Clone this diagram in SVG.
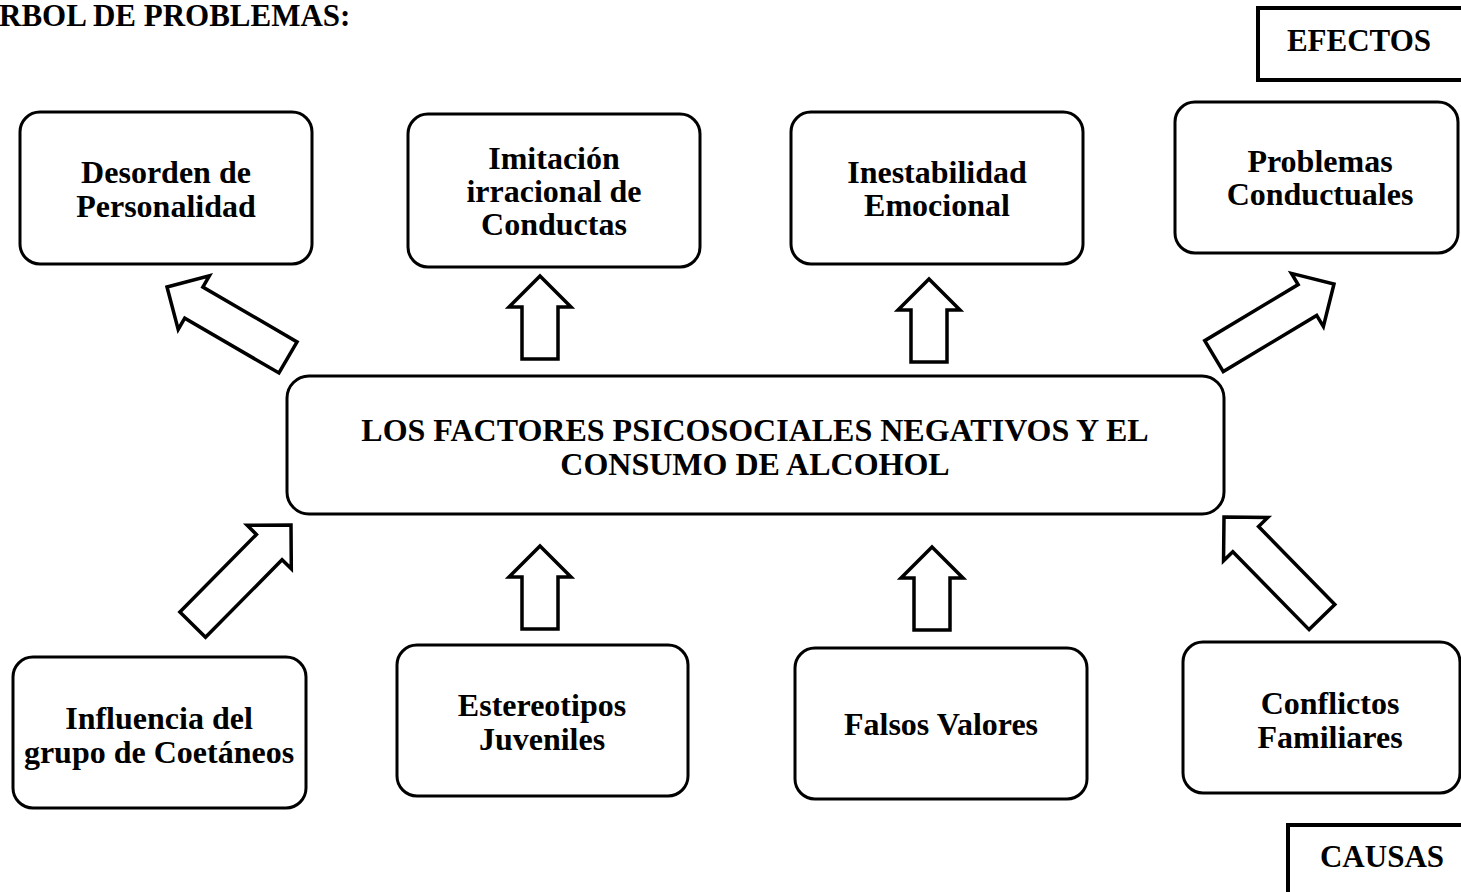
<svg xmlns="http://www.w3.org/2000/svg" width="1461" height="892" viewBox="0 0 1461 892">
<style>
.box{fill:#fff;stroke:#000;stroke-width:3}
.lbl{fill:#fff;stroke:#000;stroke-width:4}
.arr{fill:#fff;stroke:#000;stroke-width:3.5;stroke-linejoin:miter}
text{font-family:"Liberation Serif","Times New Roman",serif;font-weight:bold;font-size:32px;fill:#000;text-anchor:middle}
.t{font-size:31px}
</style>
<defs>
<polygon id="up" points="0,0 31,31 18,31 18,83 -18,83 -18,31 -31,31"/>
<polygon id="diag" points="0,0 31,31 18,31 18,140 -18,140 -18,31 -31,31"/>
</defs>
<text class="t" x="-1" y="26" style="text-anchor:start">RBOL DE PROBLEMAS:</text>
<g id="efectos">
<rect class="lbl" x="1258" y="8" width="220" height="72"/>
<text class="t" x="1359" y="51">EFECTOS</text>
</g>
<g id="causas">
<rect class="lbl" x="1288" y="825" width="200" height="100"/>
<text class="t" x="1382" y="867">CAUSAS</text>
</g>
<g id="n-desorden">
<rect class="box" x="20" y="112" width="292" height="152" rx="20"/>
<text x="166" y="183">Desorden de</text>
<text x="166" y="217">Personalidad</text>
</g>
<g id="n-imitacion">
<rect class="box" x="408" y="114" width="292" height="153" rx="20"/>
<text x="554" y="169">Imitación</text>
<text x="554" y="202">irracional de</text>
<text x="554" y="235">Conductas</text>
</g>
<g id="n-inestabilidad">
<rect class="box" x="791" y="112" width="292" height="152" rx="20"/>
<text x="937" y="183">Inestabilidad</text>
<text x="937" y="216">Emocional</text>
</g>
<g id="n-problemas">
<rect class="box" x="1175" y="102" width="283" height="151" rx="20"/>
<text x="1320" y="172">Problemas</text>
<text x="1320" y="205">Conductuales</text>
</g>
<g id="n-central">
<rect class="box" x="287" y="376" width="937" height="138" rx="22"/>
<text x="755" y="441">LOS FACTORES PSICOSOCIALES NEGATIVOS Y EL</text>
<text x="755" y="475">CONSUMO DE ALCOHOL</text>
</g>
<g id="n-influencia">
<rect class="box" x="13" y="657" width="293" height="151" rx="20"/>
<text x="159" y="729">Influencia del</text>
<text x="159" y="763">grupo de Coetáneos</text>
</g>
<g id="n-estereotipos">
<rect class="box" x="397" y="645" width="291" height="151" rx="20"/>
<text x="542" y="716">Estereotipos</text>
<text x="542" y="750">Juveniles</text>
</g>
<g id="n-falsos">
<rect class="box" x="795" y="648" width="292" height="151" rx="20"/>
<text x="941" y="735">Falsos Valores</text>
</g>
<g id="n-conflictos">
<rect class="box" x="1183" y="642" width="277" height="151" rx="20"/>
<text x="1330" y="714">Conflictos</text>
<text x="1330" y="748">Familiares</text>
</g>
<g id="connectors">
<use href="#diag" class="arr" transform="translate(167,287) rotate(-59.8)"/>
<use href="#up" class="arr" transform="translate(540,276)"/>
<use href="#up" class="arr" transform="translate(929,279)"/>
<use href="#diag" class="arr" transform="translate(1334,284) rotate(59)"/>
<use href="#diag" class="arr" transform="translate(291,525) rotate(44.6)"/>
<use href="#up" class="arr" transform="translate(540,546)"/>
<use href="#up" class="arr" transform="translate(932,547)"/>
<use href="#diag" class="arr" transform="translate(1224,517) rotate(-44.4)"/>
</g>
</svg>
